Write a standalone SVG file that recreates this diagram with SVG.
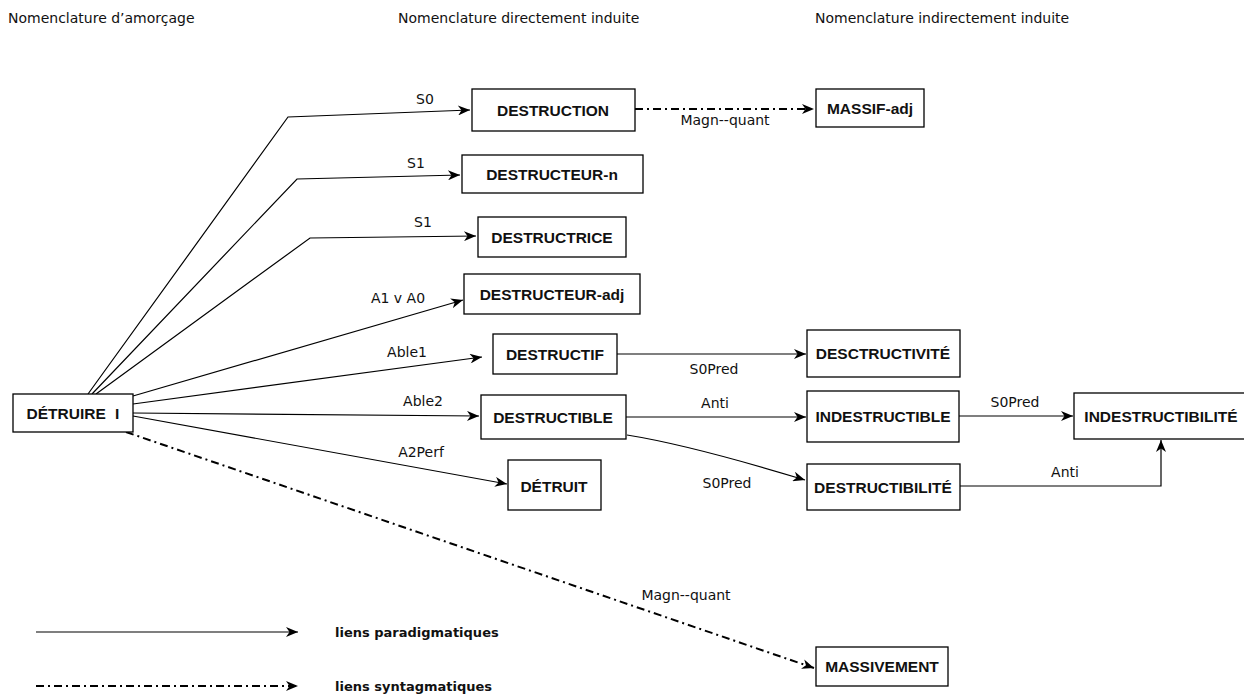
<svg xmlns="http://www.w3.org/2000/svg" width="1244" height="695" viewBox="0 0 1244 695">
<style>
.box{fill:#fff;stroke:#000;stroke-width:1.3}
.nt{font-family:"Liberation Sans",Arial,sans-serif;font-weight:bold;font-size:15.5px;fill:#111;text-anchor:middle}
.lbl{font-family:"DejaVu Sans",Verdana,sans-serif;font-size:14px;fill:#111;text-anchor:middle}
.hdr{font-family:"DejaVu Sans",Verdana,sans-serif;font-size:14px;fill:#111}
.leg{font-family:"DejaVu Sans",Verdana,sans-serif;font-weight:bold;font-size:13px;fill:#111}
.sol{fill:none;stroke:#000;stroke-width:1.2;marker-end:url(#arr)}
.dd{fill:none;stroke:#000;stroke-width:2;stroke-dasharray:8 4 2 4;marker-end:url(#arr)}
</style>
<defs>
<marker id="arr" viewBox="0 0 12 10" refX="12" refY="5" markerWidth="13" markerHeight="10" markerUnits="userSpaceOnUse" orient="auto">
<path d="M0,0 L12,5 L0,10 L3.5,5 Z" fill="#000"/>
</marker>
</defs>
<rect width="1244" height="695" fill="#fff"/>
<g id="headers">
<text class="hdr" x="8" y="23">Nomenclature d’amorçage</text>
<text class="hdr" x="398" y="23">Nomenclature directement induite</text>
<text class="hdr" x="815" y="23">Nomenclature indirectement induite</text>
</g>
<g id="connectors">
<polyline class="sol" points="88,394 288,117 470,110"/>
<polyline class="sol" points="92,394 297,179 460,175"/>
<polyline class="sol" points="96,394 310,238 476,236"/>
<line class="sol" x1="133" y1="396" x2="463" y2="300"/>
<line class="sol" x1="133" y1="404" x2="482" y2="357"/>
<line class="sol" x1="133" y1="413" x2="479" y2="416"/>
<line class="sol" x1="133" y1="416" x2="507" y2="484"/>
<line class="dd" x1="126" y1="432" x2="814" y2="668"/>
<line class="dd" x1="635" y1="109" x2="814" y2="109"/>
<line class="sol" x1="617" y1="354" x2="806" y2="354"/>
<line class="sol" x1="626" y1="417" x2="806" y2="417"/>
<path class="sol" d="M627,435 Q690,445 805,480"/>
<line class="sol" x1="959" y1="416" x2="1073" y2="416"/>
<polyline class="sol" points="960,486 1161,486 1161,440"/>
<text class="lbl" x="425" y="104">S0</text>
<text class="lbl" x="416" y="168">S1</text>
<text class="lbl" x="423" y="227">S1</text>
<text class="lbl" x="398" y="303">A1 v A0</text>
<text class="lbl" x="407" y="357">Able1</text>
<text class="lbl" x="423" y="406">Able2</text>
<text class="lbl" x="421" y="457">A2Perf</text>
<text class="lbl" x="725" y="125">Magn--quant</text>
<text class="lbl" x="714" y="374">S0Pred</text>
<text class="lbl" x="715" y="408">Anti</text>
<text class="lbl" x="727" y="488">S0Pred</text>
<text class="lbl" x="1015" y="407">S0Pred</text>
<text class="lbl" x="1065" y="477">Anti</text>
<text class="lbl" x="686" y="600">Magn--quant</text>
</g>
<g id="n-detruire"><rect class="box" x="13" y="394" width="120" height="38"/><text class="nt" x="73" y="419" word-spacing="5">DÉTRUIRE I</text></g>
<g id="n-destruction"><rect class="box" x="472" y="89" width="163" height="42"/><text class="nt" x="553" y="116">DESTRUCTION</text></g>
<g id="n-massif"><rect class="box" x="816" y="89" width="108" height="38"/><text class="nt" x="870" y="114">MASSIF-adj</text></g>
<g id="n-destructeur-n"><rect class="box" x="462" y="155" width="181" height="38"/><text class="nt" x="552" y="180">DESTRUCTEUR-n</text></g>
<g id="n-destructrice"><rect class="box" x="478" y="217" width="148" height="40"/><text class="nt" x="552" y="243">DESTRUCTRICE</text></g>
<g id="n-destructeur-adj"><rect class="box" x="464" y="274" width="176" height="40"/><text class="nt" x="552" y="300">DESTRUCTEUR-adj</text></g>
<g id="n-destructif"><rect class="box" x="493" y="334" width="124" height="40"/><text class="nt" x="555" y="360">DESTRUCTIF</text></g>
<g id="n-destructible"><rect class="box" x="481" y="395" width="145" height="44"/><text class="nt" x="553" y="423">DESTRUCTIBLE</text></g>
<g id="n-detruit"><rect class="box" x="508" y="460" width="93" height="50"/><text class="nt" x="554" y="492">DÉTRUIT</text></g>
<g id="n-desctructivite"><rect class="box" x="807" y="330" width="153" height="47"/><text class="nt" x="883" y="359">DESCTRUCTIVITÉ</text></g>
<g id="n-indestructible"><rect class="box" x="807" y="391" width="152" height="51"/><text class="nt" x="883" y="422">INDESTRUCTIBLE</text></g>
<g id="n-indestructibilite"><rect class="box" x="1074" y="393" width="175" height="46"/><text class="nt" x="1161" y="422">INDESTRUCTIBILITÉ</text></g>
<g id="n-destructibilite"><rect class="box" x="807" y="464" width="153" height="46"/><text class="nt" x="883" y="493">DESTRUCTIBILITÉ</text></g>
<g id="n-massivement"><rect class="box" x="816" y="647" width="132" height="39"/><text class="nt" x="882" y="672">MASSIVEMENT</text></g>
<g id="legend">
<line class="sol" x1="36" y1="632" x2="298" y2="632"/>
<line class="dd" x1="36" y1="686" x2="298" y2="686"/>
<text class="leg" x="335" y="637">liens paradigmatiques</text>
<text class="leg" x="335" y="691">liens syntagmatiques</text>
</g>
</svg>
